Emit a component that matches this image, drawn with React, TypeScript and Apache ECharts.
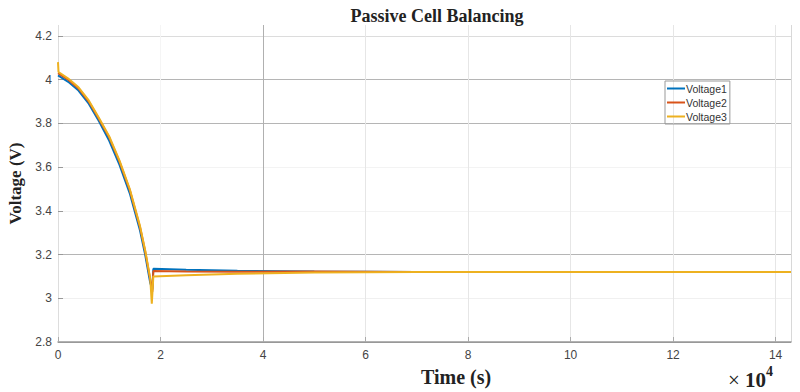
import React, { useEffect, useRef } from "react";
import * as echarts from "echarts";

const xTicks = [0, 2, 4, 6, 8, 10, 12, 14];
const yTicks = [2.8, 3, 3.2, 3.4, 3.6, 3.8, 4, 4.2];

const time1 = [0, 0.2, 0.4, 0.6, 0.8, 1.0, 1.2, 1.4, 1.6, 1.7, 1.8, 1.84, 1.86, 2.5, 3.5, 5, 7, 10, 14.3];
const voltage1 = [4.02, 3.99, 3.95, 3.89, 3.81, 3.72, 3.61, 3.48, 3.31, 3.2, 3.07, 3.04, 3.135, 3.13, 3.126, 3.122, 3.12, 3.12, 3.12];

const time2 = [0, 0.2, 0.4, 0.6, 0.8, 1.0, 1.2, 1.4, 1.6, 1.7, 1.8, 1.84, 1.86, 2.5, 3.5, 5, 7, 10, 14.3];
const voltage2 = [4.03, 4.0, 3.96, 3.9, 3.82, 3.735, 3.625, 3.495, 3.325, 3.215, 3.085, 3.03, 3.125, 3.122, 3.121, 3.122, 3.12, 3.12, 3.12];

const time3 = [0, 0.01, 0.2, 0.4, 0.6, 0.8, 1.0, 1.2, 1.4, 1.6, 1.7, 1.8, 1.83, 1.86, 2.5, 3.5, 5, 7, 10, 14.3];
const voltage3 = [4.08, 4.035, 4.005, 3.965, 3.905, 3.825, 3.74, 3.63, 3.5, 3.33, 3.22, 3.09, 2.975, 3.1, 3.105, 3.112, 3.118, 3.12, 3.12, 3.12];

const seriesNames = ["Voltage1", "Voltage2", "Voltage3"];
const seriesColors = ["#0072BD", "#D95319", "#EDB120"];

const zip = (xs: number[], ys: number[]) => xs.map((x, i) => [x, ys[i]]);

export default function App() {
  const ref = useRef<HTMLDivElement>(null);
  useEffect(() => {
    if (!ref.current) return;
    const chart = echarts.init(ref.current, null, { renderer: "svg" });
    const data = [zip(time1, voltage1), zip(time2, voltage2), zip(time3, voltage3)];
    chart.setOption({
      animation: false,
      backgroundColor: "#ffffff",
      title: {
        text: "Passive Cell Balancing",
        left: 432,
        textAlign: "center",
        top: 2,
        textStyle: { fontFamily: "Liberation Serif", fontWeight: "bold", fontSize: 18, color: "#222" },
      },
      legend: {
        data: seriesNames,
        orient: "vertical",
        left: 665,
        top: 81,
        icon: "rect",
        itemWidth: 18,
        itemHeight: 2,
        itemGap: 3,
        padding: [2, 3, 2, 2],
        borderColor: "#999",
        borderWidth: 1,
        textStyle: { fontFamily: "Liberation Sans", fontSize: 10.5, lineHeight: 11, color: "#333", padding: [0, 0, 0, -4] },
      },
      grid: { left: 58, right: 9, top: 25, bottom: 50, containLabel: false, outerBoundsMode: "none" },
      xAxis: {
        type: "value",
        min: 0,
        max: 14.3,
        interval: 2,
        axisLine: { show: true, lineStyle: { color: "#999", width: 1.5 } },
        axisTick: { show: true, inside: true, length: 5, lineStyle: { color: "#aaa" } },
        axisLabel: {
          showMaxLabel: false,
          fontFamily: "Liberation Sans",
          fontSize: 12,
          color: "#444",
          margin: 7,
        },
        splitLine: {
          show: true,
          lineStyle: {
            color: ["#dddddd", "#f5f5f5", "#b0b0b0", "#e6e6e6", "#e6e6e6", "#e6e6e6", "#e6e6e6", "#e6e6e6", "#d8d8d8"],
            width: 1,
          },
        },
      },
      yAxis: {
        type: "value",
        min: 2.8,
        max: 4.25,
        interval: 0.2,
        name: "Voltage (V)",
        nameLocation: "middle",
        nameGap: 33,
        nameTextStyle: { fontFamily: "Liberation Serif", fontWeight: "bold", fontSize: 17, color: "#222" },
        axisLine: { show: false },
        axisTick: { show: true, inside: true, length: 5, lineStyle: { color: "#999" } },
        axisLabel: {
          showMaxLabel: false,
          fontFamily: "Liberation Sans",
          fontSize: 12,
          color: "#444",
          margin: 6,
          formatter: (v: number) => String(Math.round(v * 10) / 10),
        },
        splitLine: {
          show: true,
          lineStyle: {
            color: ["#999999", "#f0f0f0", "#b5b5b5", "#f3f3f3", "#f3f3f3", "#b5b5b5", "#b5b5b5", "#dcdcdc", "#ffffff"],
            width: 1,
          },
        },
      },
      graphic: [
        {
          type: "text",
          left: 421,
          top: 367,
          style: { text: "Time (s)", font: "bold 20px 'Liberation Serif'", fill: "#222" },
        },
        {
          type: "text",
          left: 728,
          top: 364,
          style: {
            text: "{a|× }{c|10}{b|4}",
            rich: {
              a: { fontFamily: "Liberation Serif", fontSize: 21, fill: "#222", verticalAlign: "bottom", lineHeight: 26 },
              c: { fontFamily: "Liberation Serif", fontWeight: "bold", fontSize: 21, fill: "#222", verticalAlign: "bottom", lineHeight: 26 },
              b: { fontFamily: "Liberation Serif", fontWeight: "bold", fontSize: 14, fill: "#222", verticalAlign: "top", lineHeight: 26 },
            },
          },
        },
      ],
      series: seriesNames.map((name, i) => ({
        name,
        type: "line",
        data: data[i],
        showSymbol: false,
        symbol: "none",
        color: seriesColors[i],
        lineStyle: { width: 2, color: seriesColors[i] },
        z: 3 + i,
      })),
    });
    return () => chart.dispose();
  }, []);
  return <div ref={ref} style={{ width: 800, height: 392, marginLeft: -8, marginTop: -8 }} />;
}
